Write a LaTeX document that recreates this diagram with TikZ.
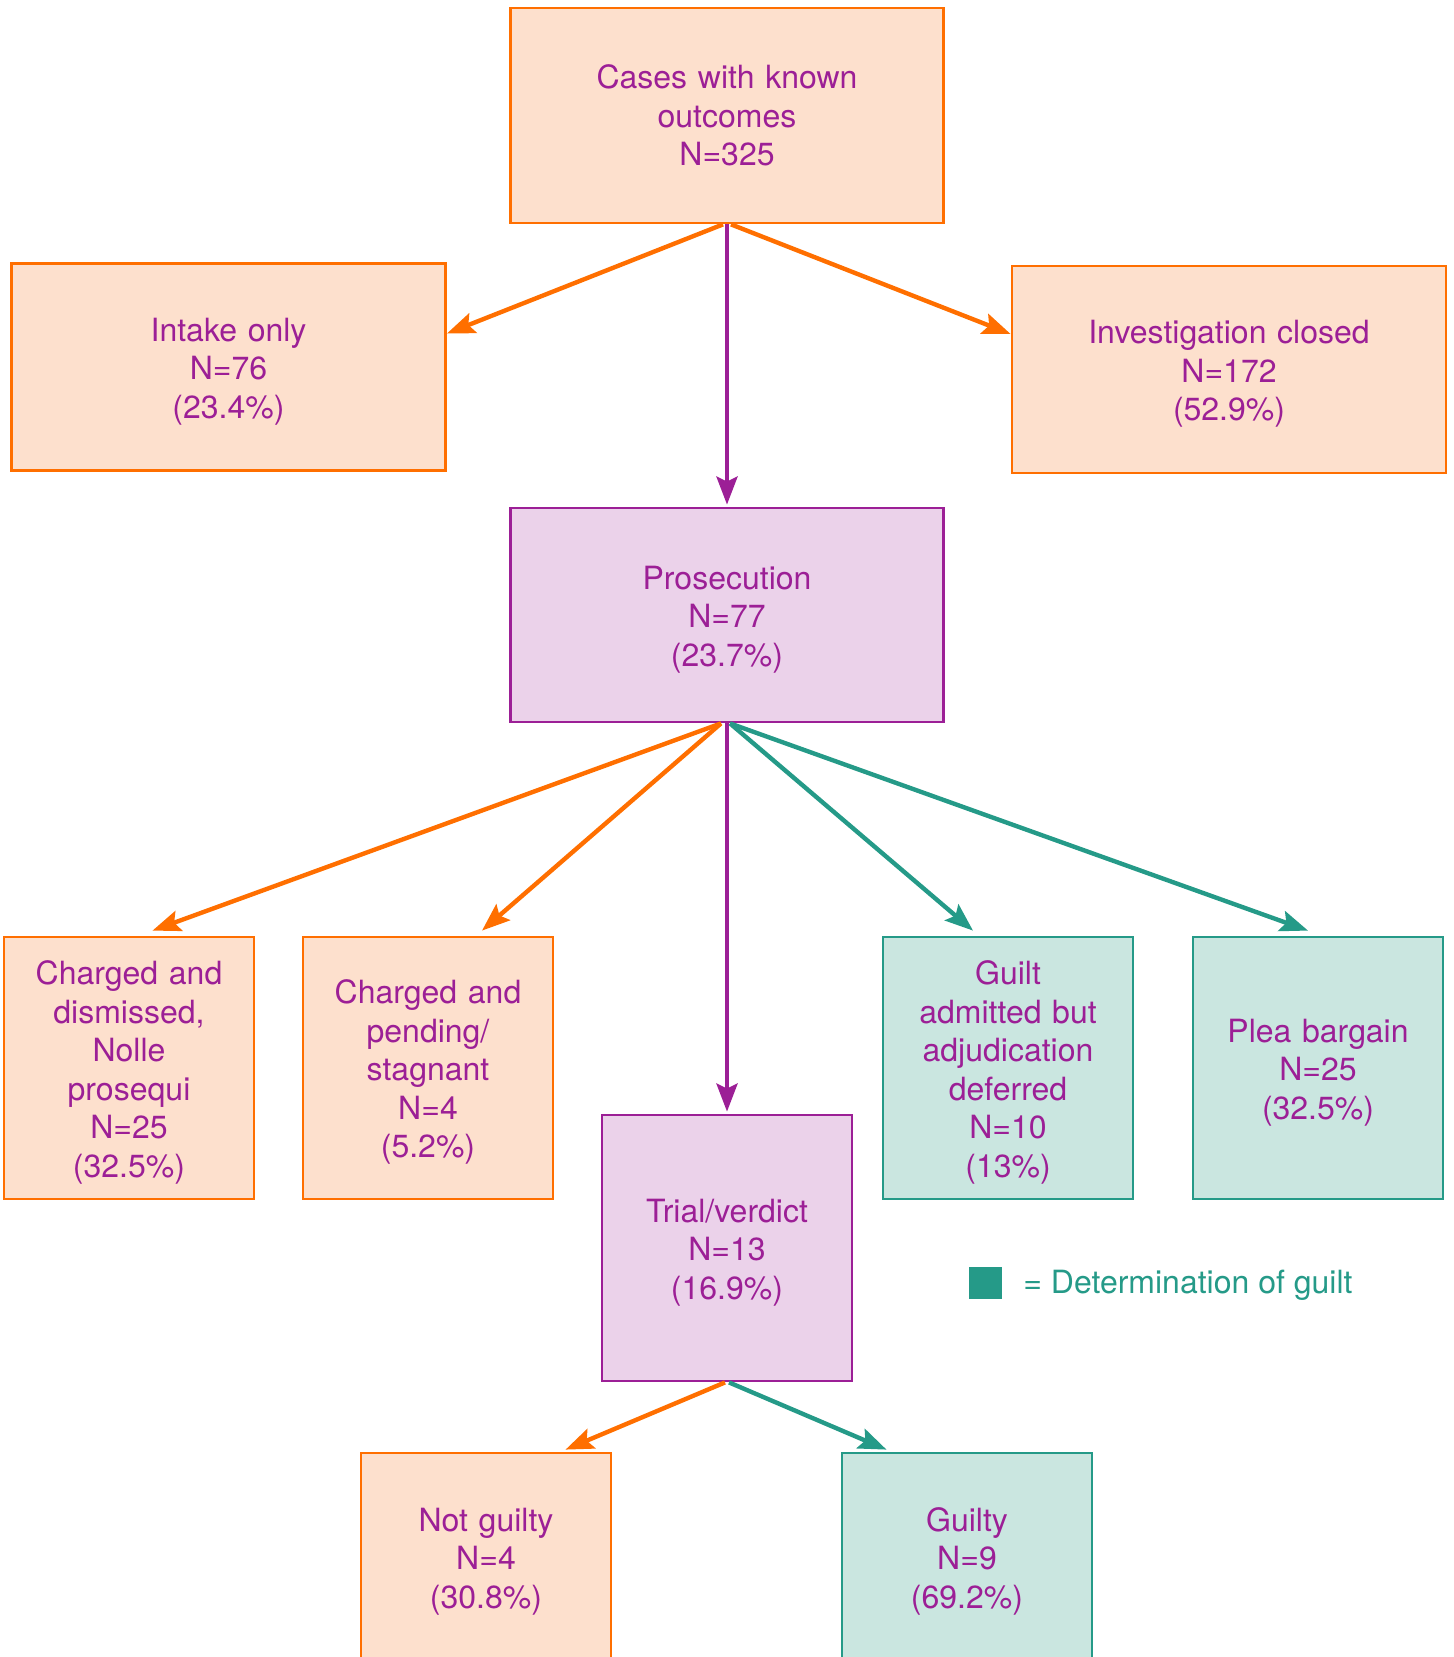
\documentclass[tikz,border=0pt]{standalone}
\usepackage{fontspec}
\setmainfont{TeX Gyre Heros}
\usetikzlibrary{arrows.meta}
\definecolor{caseorange}{HTML}{FF6F00}
\definecolor{casepeach}{HTML}{FDE0CD}
\definecolor{casepurple}{HTML}{9C1F96}
\definecolor{caselilac}{HTML}{EBD2EA}
\definecolor{caseteal}{HTML}{259A88}
\definecolor{casemint}{HTML}{CAE6E0}
\begin{document}
\begin{tikzpicture}[x=0.5pt, y=-0.5pt,
  box/.style={rectangle, inner sep=0pt, align=center, text=casepurple, line width=1.4pt,
    text width=120pt, font=\fontsize{16}{19.25}\selectfont},
  wide/.style={text width=200pt},
  lowered/.style={execute at begin node={\rule{0pt}{16.2pt}}},
  orangebox/.style={box, draw=caseorange, fill=casepeach},
  purplebox/.style={box, draw=casepurple, fill=caselilac},
  tealbox/.style={box, draw=caseteal, fill=casemint},
  flow/.style={line width=2.2pt, -{Stealth[length=14pt, width=10.5pt, inset=2.5pt]}},
  orangearrow/.style={flow, draw=caseorange, fill=caseorange},
  purplearrow/.style={flow, draw=casepurple, fill=casepurple},
  tealarrow/.style={flow, draw=caseteal, fill=caseteal}]
\useasboundingbox (0,0) rectangle (1453,1657);
% first split
\node[orangebox, wide, minimum width=216.5pt, minimum height=107.5pt] (cases) at (727,115.5) {Cases with known\\outcomes\\N=325};
\node[orangebox, wide, lowered, minimum width=217pt, minimum height=103.5pt] (intake) at (228.5,367) {Intake only\\N=76\\(23.4\%)};
\node[orangebox, wide, lowered, minimum width=217pt, minimum height=103.5pt] (closed) at (1229,369.5) {Investigation closed\\N=172\\(52.9\%)};
\node[purplebox, wide, lowered, minimum width=216.5pt, minimum height=107pt] (prosecution) at (727,615) {Prosecution\\N=77\\(23.7\%)};
\draw[orangearrow] ([xshift=-2pt]cases.south) -- ([yshift=16.75pt]intake.east);
\draw[orangearrow] ([xshift=2pt]cases.south) -- ([yshift=17.75pt]closed.west);
\draw[purplearrow] (cases.south) -- ([yshift=1pt]prosecution.north);
% prosecution outcomes
\node[orangebox, lowered, minimum width=125pt, minimum height=131pt] (dismissed) at (129,1068) {Charged and\\dismissed,\\Nolle\\prosequi\\N=25\\(32.5\%)};
\node[orangebox, lowered, minimum width=125pt, minimum height=131pt] (pending) at (428,1068) {Charged and\\pending/\\stagnant\\N=4\\(5.2\%)};
\node[tealbox, lowered, minimum width=125pt, minimum height=131pt] (deferred) at (1008,1068) {Guilt\\admitted but\\adjudication\\deferred\\N=10\\(13\%)};
\node[tealbox, lowered, minimum width=125pt, minimum height=131pt] (plea) at (1318,1068) {Plea bargain\\N=25\\(32.5\%)};
\node[purplebox, lowered, minimum width=125pt, minimum height=133pt] (trial) at (727,1248) {Trial/verdict\\N=13\\(16.9\%)};
\draw[orangearrow] ([xshift=-3pt]prosecution.south) -- ([xshift=11.75pt, yshift=2.5pt]dismissed.north);
\draw[orangearrow] ([xshift=-3pt]prosecution.south) -- ([xshift=27pt, yshift=2.5pt]pending.north);
\draw[purplearrow] (prosecution.south) -- ([yshift=1pt]trial.north);
\draw[tealarrow] ([xshift=1.5pt]prosecution.south) -- ([xshift=-17.5pt, yshift=2.5pt]deferred.north);
\draw[tealarrow] ([xshift=1.5pt]prosecution.south) -- ([xshift=-5pt, yshift=2.5pt]plea.north);
% verdicts
\node[orangebox, lowered, minimum width=125pt, minimum height=104pt] (notguilty) at (486,1557) {Not guilty\\N=4\\(30.8\%)};
\node[tealbox, lowered, minimum width=125pt, minimum height=104pt] (guilty) at (967,1557) {Guilty\\N=9\\(69.2\%)};
\draw[orangearrow] ([xshift=-1pt]trial.south) -- ([xshift=39.75pt, yshift=1pt]notguilty.north);
\draw[tealarrow] ([xshift=1pt]trial.south) -- ([xshift=-40.25pt, yshift=1pt]guilty.north);
% key
\node[fill=caseteal, minimum width=16.5pt, minimum height=16pt, inner sep=0pt] (key) at (985.5,1283) {};
\node[anchor=west, inner sep=0pt, text=caseteal, font=\fontsize{16}{19.25}\selectfont] (keytext) at (1023,1285) {= Determination of guilt};
\end{tikzpicture}
\end{document}
